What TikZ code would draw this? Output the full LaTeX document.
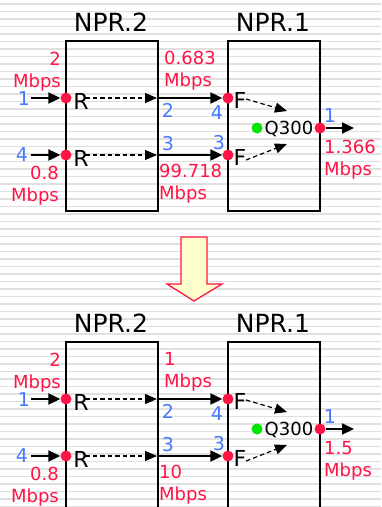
\documentclass[tikz,border=0pt]{standalone}
\usepackage{fontspec}
\setmainfont{DejaVu Sans}
\usetikzlibrary{arrows.meta}
\definecolor{lblred}{RGB}{255,20,70}
\definecolor{lblblue}{RGB}{70,120,255}
\definecolor{dotgreen}{RGB}{0,230,0}
\definecolor{stripegray}{RGB}{224,224,224}
\definecolor{arrowfill}{RGB}{255,255,204}
\tikzset{
  stripe/.style={draw=stripegray, line width=1.6pt},
  npbox/.style={draw=black, line width=2.4pt, minimum width=92pt, minimum height=170pt, inner sep=0pt},
  boxtitle/.style={inner sep=0pt, font=\fontsize{25pt}{28pt}\selectfont},
  rftext/.style={inner sep=0pt, font=\fontsize{22pt}{24pt}\selectfont},
  qtext/.style={inner sep=0pt, font=\fontsize{18pt}{20pt}\selectfont},
  redlbl/.style={inner sep=0pt, text=lblred, font=\fontsize{18pt}{22pt}\selectfont},
  bluelbl/.style={inner sep=0pt, text=lblblue, font=\fontsize{19pt}{22pt}\selectfont},
  reddot/.style={circle, fill=lblred, inner sep=0pt, minimum size=11pt},
  greendot/.style={circle, fill=dotgreen, inner sep=0pt, minimum size=11pt},
  solidarrow/.style={draw=black, line width=2.2pt, -{Triangle[length=12pt,width=11pt]}},
  dasharrow/.style={draw=black, line width=1.2pt, dash pattern=on 4.5pt off 3pt, -{Triangle[length=12pt,width=10pt]}},
  bigarrow/.style={draw=lblred, line width=1.3pt, fill=arrowfill, line join=miter},
}
\newcommand\nprpanel[5]{%
\begin{scope}[shift={(0,#2)}]
  \node[boxtitle] (#1t2) at (111,22) {NPR.2};
  \node[boxtitle] (#1t1) at (273,22) {NPR.1};
  \node[npbox] (#1b2) at (112,126) {};
  \node[npbox] (#1b1) at (274,126) {};
  % left router dots
  \node[reddot] (#1r1) at (66,98) {};
  \node[reddot] (#1r2) at (66,155) {};
  \node[rftext] (#1rt1) at (81,101) {R};
  \node[rftext] (#1rt2) at (81,158) {R};
  \coordinate (#1i1) at (31,98);
  \coordinate (#1i2) at (31,155);
  \draw[solidarrow] (#1i1) -- (#1r1);
  \draw[solidarrow] (#1i2) -- (#1r2);
  \node[bluelbl] (#1l1) at (24,99) {1};
  \node[bluelbl] (#1l4) at (22,155) {4};
  \node[redlbl, align=right, anchor=east] (#1in1) at (61,72) {2\\Mbps};
  \node[redlbl, align=right, anchor=east] (#1in2) at (59,186) {0.8\\Mbps};
  % dashed internal arrows
  \coordinate (#1d1) at (85,98);
  \coordinate (#1d2) at (85,155);
  \coordinate (#1e1) at (157,98);
  \coordinate (#1e2) at (157,155);
  \draw[dasharrow] (#1d1) -- (#1e1);
  \draw[dasharrow] (#1d2) -- (#1e2);
  % links between boxes
  \node[reddot] (#1f1) at (228,98) {};
  \node[reddot] (#1f2) at (228,155) {};
  \draw[solidarrow] (#1e1) -- (#1f1);
  \draw[solidarrow] (#1e2) -- (#1f2);
  \node[bluelbl] (#1p2) at (168,110) {2};
  \node[bluelbl] (#1p3) at (168,144) {3};
  \node[bluelbl] (#1p4) at (217,113) {4};
  \node[bluelbl] (#1p3b) at (219,143) {3};
  \node[redlbl, align=left, anchor=west] (#1m1) at (164,71) {#3};
  \node[redlbl, align=left, anchor=west] (#1m2) at (159,184) {#4};
  % right box
  \node[rftext] (#1ft1) at (240,100) {F};
  \node[rftext] (#1ft2) at (240,157) {F};
  \coordinate (#1g1) at (246,99);
  \coordinate (#1h1) at (287,111);
  \coordinate (#1g2) at (246,160);
  \coordinate (#1h2) at (287,144);
  \draw[dasharrow] (#1g1) -- (#1h1);
  \draw[dasharrow] (#1g2) -- (#1h2);
  \node[greendot] (#1q) at (257,128) {};
  \node[qtext] (#1qt) at (289,129) {Q300};
  \node[reddot] (#1o) at (320,128) {};
  \coordinate (#1oe) at (354,128);
  \draw[solidarrow] (#1o) -- (#1oe);
  \node[bluelbl] (#1ol) at (330,116) {1};
  \node[redlbl, align=left, anchor=west] (#1ot) at (324,160) {#5};
\end{scope}}

\begin{document}
\begin{tikzpicture}[x=1pt, y=-1pt]
  \clip (0,0) rectangle (381,507);
  \fill[white] (0,0) rectangle (381,507);
  \foreach \k in {0,...,67} {
    \draw[stripe] (0,{4+7.5*\k}) -- (381,{4+7.5*\k});
  }
  \nprpanel{a}{0}{0.683\\Mbps}{99.718\\Mbps}{1.366\\Mbps}
  \nprpanel{b}{301}{1\\Mbps}{10\\Mbps}{1.5\\Mbps}
  \draw[bigarrow] (181,237) -- (207,237) -- (207,284) -- (222,284) -- (194,301) -- (167,284) -- (181,284) -- cycle;
\end{tikzpicture}
\end{document}
